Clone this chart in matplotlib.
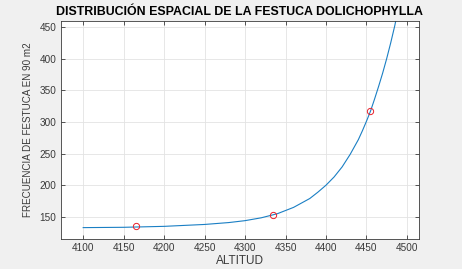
import matplotlib
matplotlib.use("Agg")
import matplotlib.pyplot as plt
import numpy as np

# observed points
alt_obs = [4165, 4335, 4455]
freq_obs = [135, 153, 317]

# fitted curve
alt_fit = [4100, 4150, 4200, 4250, 4280, 4300, 4320, 4340, 4360, 4380,
           4390, 4400, 4410, 4420, 4430, 4440, 4445, 4450, 4455, 4460,
           4465, 4470, 4475, 4480, 4485, 4490]
freq_fit = [133, 133.5, 135, 138, 141, 144, 148.5, 155, 165, 179,
            189, 200, 213, 229, 249, 272, 286, 301, 317, 336,
            356, 377, 400, 425, 452, 483]

plt.rcParams['font.family'] = ['Liberation Sans', 'DejaVu Sans']

fig = plt.figure(figsize=(4.62, 2.69), dpi=100, facecolor='#f0f0f0')
ax = fig.add_axes([0.131, 0.1115, 0.776, 0.8115])
ax.set_facecolor('white')

ax.plot(alt_fit, freq_fit, color='#1a7fc4', lw=0.8)
ax.plot(alt_obs, freq_obs, 'o', mfc='none', mec='#e8202a', ms=4.5, mew=0.7)

ax.set_xlim(4072, 4515)
ax.set_ylim(115, 460)
ax.set_xticks(np.arange(4100, 4501, 50))
ax.set_yticks(np.arange(150, 451, 50))
ax.grid(True, color='#e3e3e3', lw=0.6)
ax.tick_params(direction='in', top=True, right=True, length=3, width=0.6,
               labelsize=7.2, colors='#3a3a3a', pad=3)
for s in ax.spines.values():
    s.set_color('#3a3a3a')
    s.set_linewidth(0.6)

ax.set_title('DISTRIBUCIÓN ESPACIAL DE LA FESTUCA DOLICHOPHYLLA',
             fontsize=8.9, fontweight='bold', color='black', pad=4)
ax.set_xlabel('ALTITUD', fontsize=8.5, color='#3a3a3a', labelpad=1)
ax.set_ylabel('FRECUENCIA DE FESTUCA EN 90 m2', fontsize=7.1, color='#3a3a3a', labelpad=5)

fig.savefig('out.png', dpi=100, facecolor=fig.get_facecolor())
